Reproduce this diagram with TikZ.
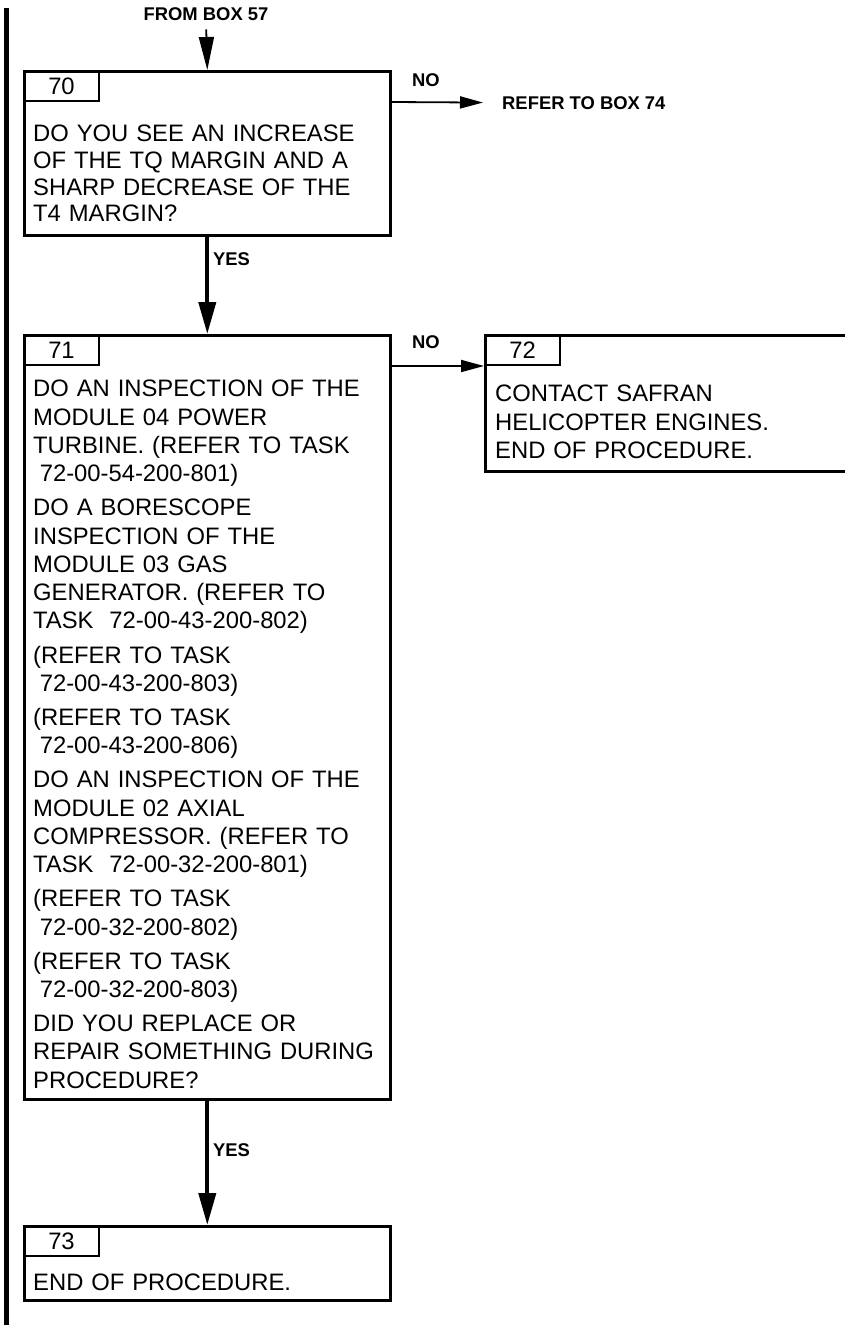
\documentclass[tikz,border=0pt]{standalone}
\usepackage{fontspec}
\setmainfont{Liberation Sans}
\usetikzlibrary{arrows.meta}

\newcommand{\ind}{\hspace*{.278em}}

\tikzset{
	box/.style={draw, line width=2.6pt, anchor=north west, inner sep=0pt},
	tab/.style={draw, line width=2pt, anchor=north west, minimum width=75pt, minimum height=30pt, inner sep=0pt, font=\fontsize{23.8}{28.3}\selectfont},
	txt/.style={anchor=base west, inner sep=0pt, text width=354pt, align=left, font=\fontsize{23.8}{28.3}\selectfont},
	lbl/.style={anchor=base west, inner sep=0pt, font=\bfseries\fontsize{18.4}{22}\selectfont},
	inarrow/.style={line width=1.8pt, -{Triangle[length=33pt,width=15pt]}},
	noarrow/.style={line width=1.8pt, -{Triangle[length=23pt,width=12pt]}},
	yesarrow/.style={line width=4pt, -{Triangle[length=32pt,width=17pt]}}
}

\begin{document}
\begin{tikzpicture}[x=1pt, y=-1pt]
	\useasboundingbox (0,0) rectangle (844,1325);
	
	% change bar
	\draw[line width=5pt] (6.5,8) -- (6.5,1325);
	
	% boxes
	\node[box, minimum width=366pt, minimum height=164pt] (b70) at (23,70) {};
	\node[box, minimum width=366pt, minimum height=764pt] (b71) at (23,334) {};
	\node[box, minimum width=362pt, minimum height=136pt] (b72) at (484,334) {};
	\node[box, minimum width=366pt, minimum height=74pt] (b73) at (23,1225) {};
	
	\foreach \b in {70,71,72,73}
	\node[tab] (t\b) at (b\b.north west) {\b};
	
	\node[txt, font=\fontsize{23.8}{26.7}\selectfont] (q70) at (33,141.7) {DO YOU SEE AN INCREASE\\OF THE TQ MARGIN AND A\\SHARP DECREASE OF THE\\T4 MARGIN?};
	\node[txt] (q71) at (33,396.7) {DO AN INSPECTION OF THE\\
		MODULE 04 POWER\\
		TURBINE. (REFER TO TASK\\
		\ind 72-00-54-200-801)\\[5.8pt]
		DO A BORESCOPE\\
		INSPECTION OF THE\\
		MODULE 03 GAS\\
		GENERATOR. (REFER TO\\
		TASK~~72-00-43-200-802)\\[5.8pt]
		(REFER TO TASK\\
		\ind 72-00-43-200-803)\\[5.8pt]
		(REFER TO TASK\\
		\ind 72-00-43-200-806)\\[5.8pt]
		DO AN INSPECTION OF THE\\
		MODULE 02 AXIAL\\
		COMPRESSOR. (REFER TO\\
		TASK~~72-00-32-200-801)\\[5.8pt]
		(REFER TO TASK\\
		\ind 72-00-32-200-802)\\[5.8pt]
		(REFER TO TASK\\
		\ind 72-00-32-200-803)\\[5.8pt]
		DID YOU REPLACE OR\\
		REPAIR SOMETHING DURING\\
		PROCEDURE?};
	\node[txt, text width=340pt] (q72) at (495,401.7) {CONTACT SAFRAN\\HELICOPTER ENGINES.\\END OF PROCEDURE.};
	\node[txt] (q73) at (33,1290) {END OF PROCEDURE.};
	
	% labels
	\node[lbl, anchor=base] (from57) at (206,20.7) {FROM BOX 57};
	\node[lbl] (no70) at (412,86) {NO};
	\node[lbl] (ref74) at (502,109) {REFER TO BOX 74};
	\node[lbl] (yes70) at (213,265) {YES};
	\node[lbl] (no71) at (412,348.5) {NO};
	\node[lbl] (yes71) at (213,1156) {YES};
	
	% connectors
	\draw[inarrow, shorten <=8.3pt] (from57.south) -- (b70.north);
	\draw[noarrow, shorten >=19pt] (t70.south -| b70.east) -- (ref74.west);
	\draw[yesarrow] (b70.south) -- (b71.north);
	\draw[noarrow] (b71.east |- t72.south west) -- (t72.south west);
	\draw[yesarrow] (b71.south) -- (b73.north);
\end{tikzpicture}
\end{document}
